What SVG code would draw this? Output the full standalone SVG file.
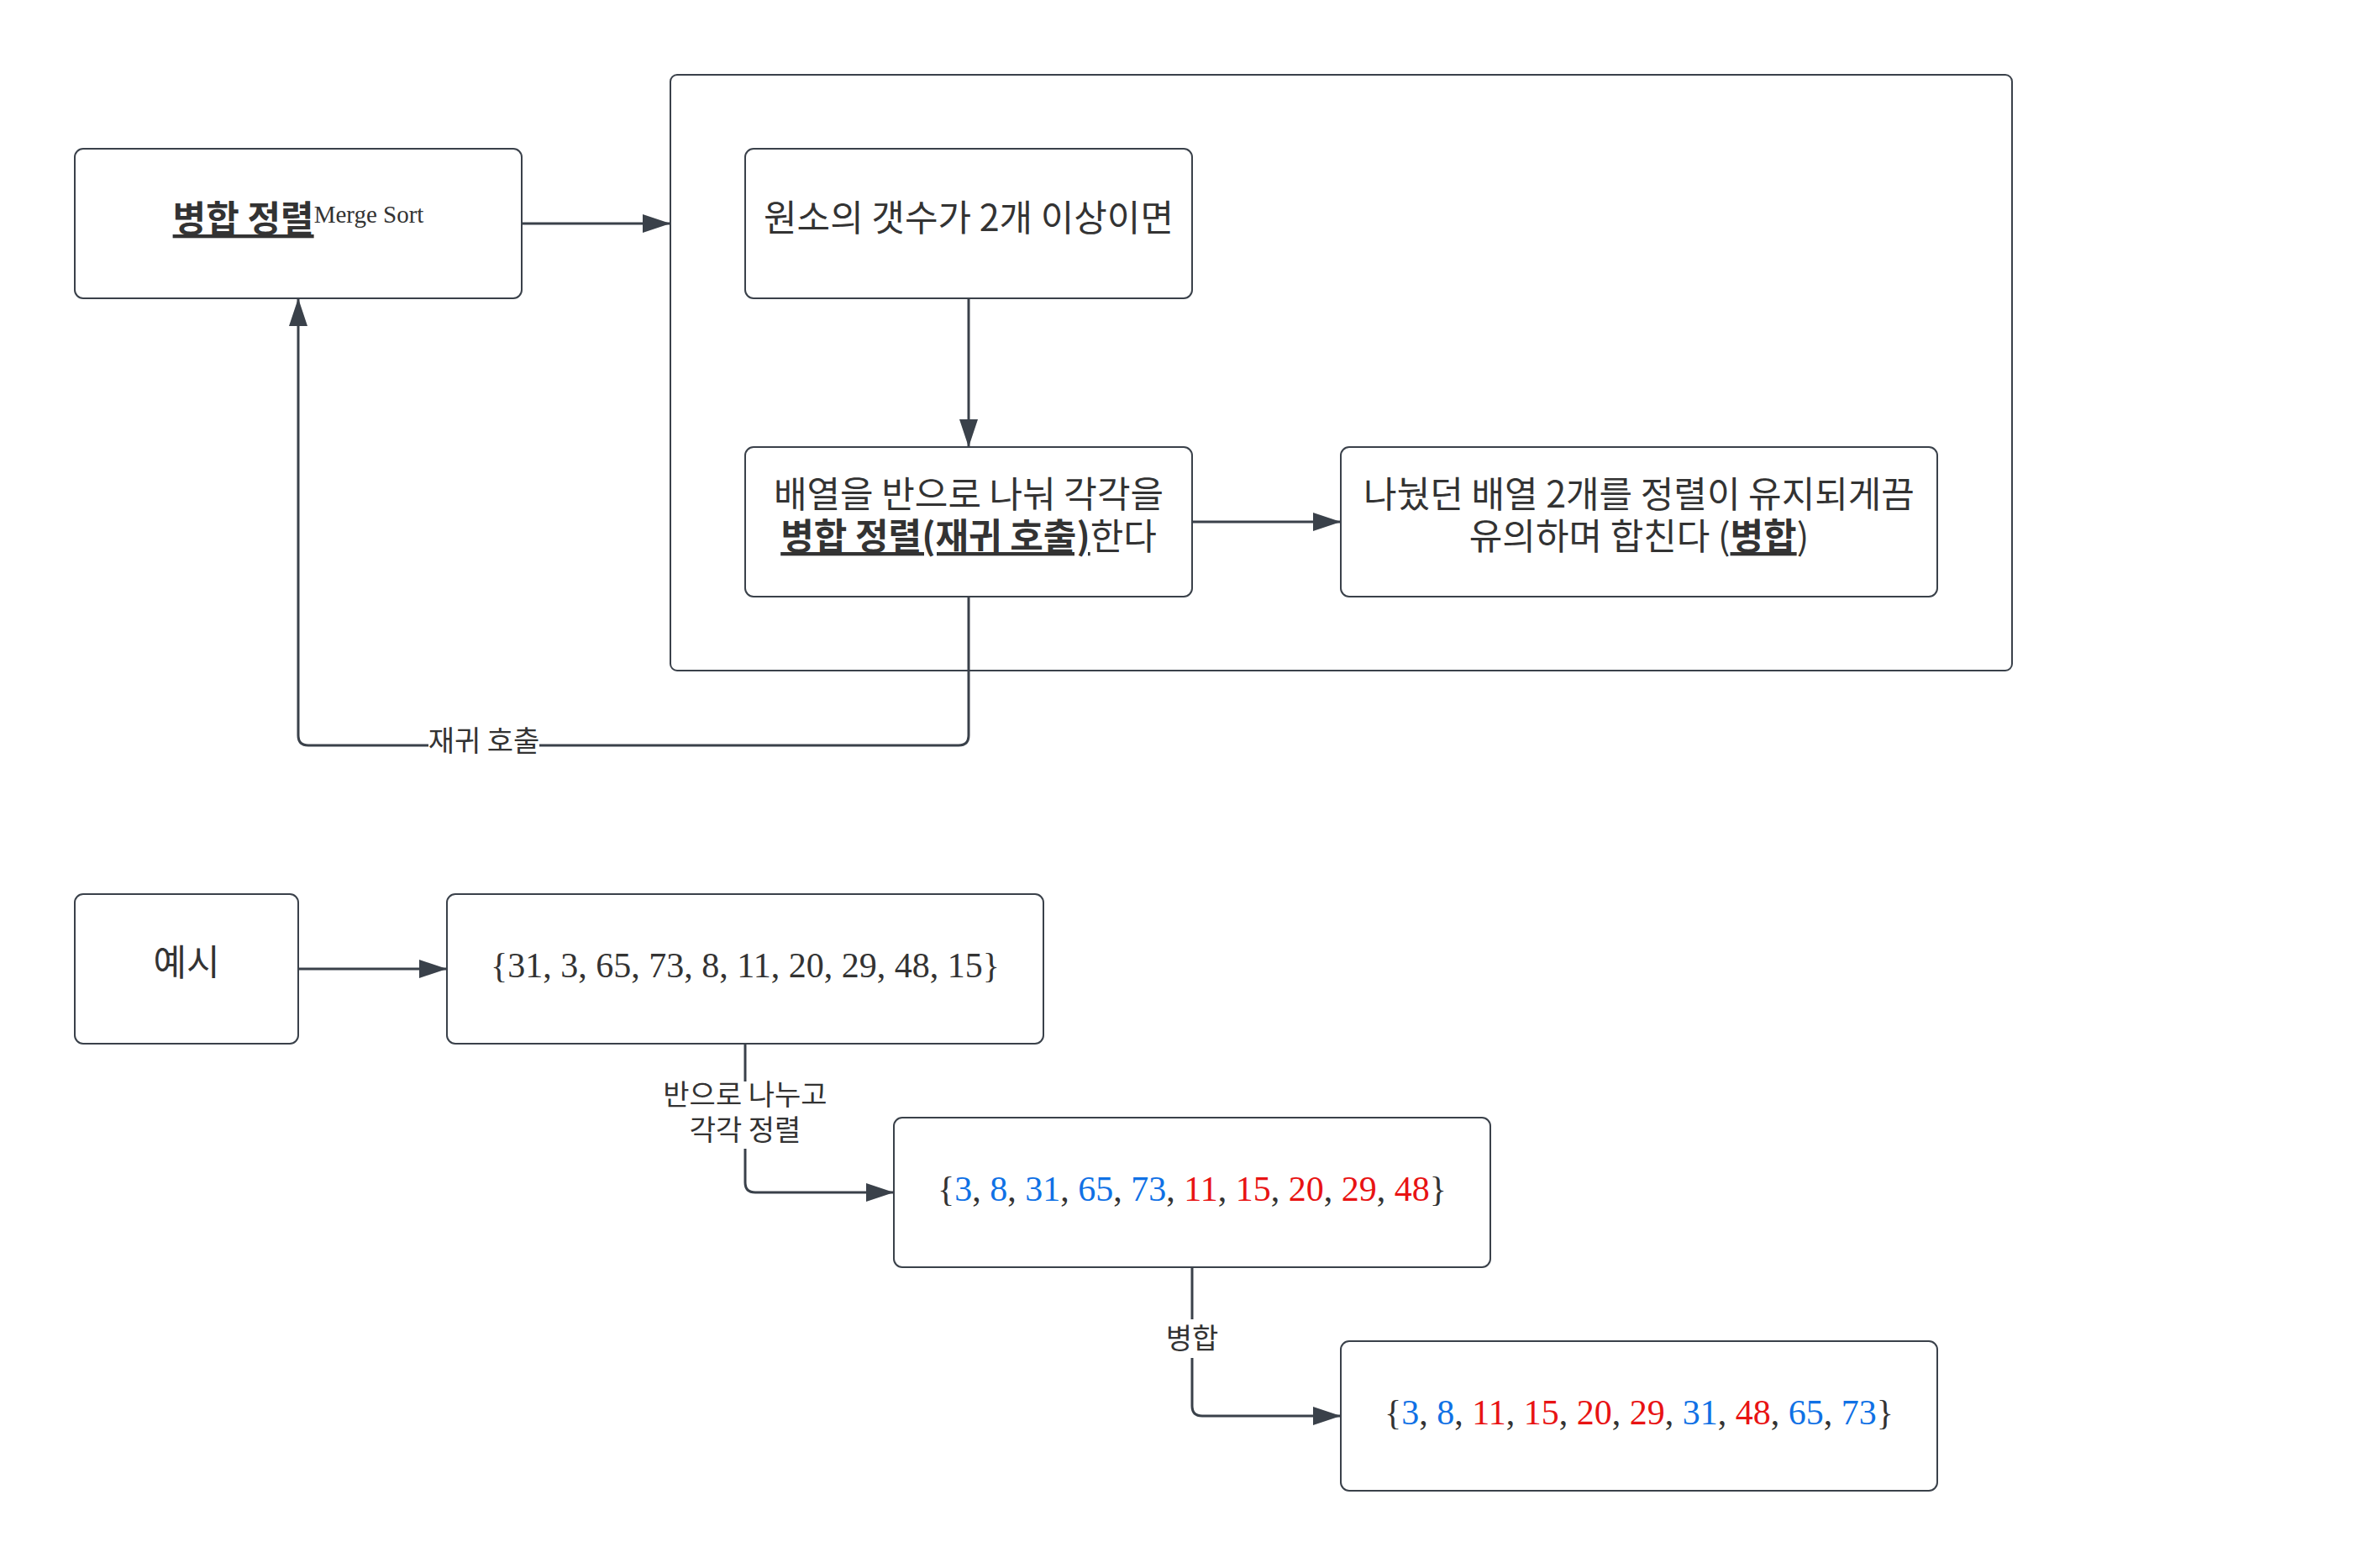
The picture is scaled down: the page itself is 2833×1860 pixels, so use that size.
<svg xmlns="http://www.w3.org/2000/svg" width="2833" height="1860" viewBox="0 0 2833 1860">
<style>
.box{fill:#fff;stroke:#3a414a;stroke-width:2}
.con{fill:none;stroke:#3a414a;stroke-width:3}
.ko{font-family:"Noto Sans CJK KR","Liberation Sans",sans-serif;font-size:43px;fill:#333;text-anchor:middle}
.lbl{font-family:"Noto Sans CJK KR","Liberation Sans",sans-serif;font-size:34px;fill:#333;text-anchor:middle}
.num{font-family:"Liberation Serif",serif;font-size:42px;fill:#333;text-anchor:middle}
.b{fill:#1071e5}
.r{fill:#e81313}
.bu{font-weight:bold;text-decoration:underline}
</style>
<defs>
<marker id="arr" markerUnits="userSpaceOnUse" markerWidth="34" markerHeight="24" viewBox="0 0 34 24" refX="33" refY="12" orient="auto">
<path d="M0,1 L33,12 L0,23 Z" fill="#3a414a"/>
</marker>
</defs>
<rect width="2833" height="1860" fill="#fff"/>
<g id="container">
<rect class="box" x="798" y="89" width="1597" height="709" rx="8"/>
</g>
<g id="connectors">
<path class="con" d="M621,266 L798,266" marker-end="url(#arr)"/>
<path class="con" d="M1153,355 L1153,532" marker-end="url(#arr)"/>
<path class="con" d="M1419,621 L1596,621" marker-end="url(#arr)"/>
<path class="con" d="M1153,710 L1153,875 Q1153,887 1141,887 L367,887 Q355,887 355,875 L355,355" marker-end="url(#arr)"/>
<rect x="510" y="862" width="132" height="44" fill="#fff"/>
<text class="lbl" x="576" y="894">재귀 호출</text>
<path class="con" d="M355,1153 L532,1153" marker-end="url(#arr)"/>
<path class="con" d="M887,1242 L887,1407 Q887,1419 899,1419 L1064,1419" marker-end="url(#arr)"/>
<rect x="784" y="1287" width="206" height="80" fill="#fff"/>
<text class="lbl" x="887" y="1315">반으로 나누고</text>
<text class="lbl" x="887" y="1357">각각 정렬</text>
<path class="con" d="M1419,1508 L1419,1673 Q1419,1685 1431,1685 L1596,1685" marker-end="url(#arr)"/>
<rect x="1383" y="1570" width="72" height="46" fill="#fff"/>
<text class="lbl" x="1419" y="1605">병합</text>
</g>
<g id="merge-sort">
<rect class="box" x="89" y="177" width="532" height="178" rx="10"/>
<text class="ko" x="355" y="276"><tspan class="bu">병합 정렬</tspan><tspan font-family="Liberation Serif, serif" font-size="29" dy="-11">Merge Sort</tspan></text>
</g>
<g id="condition">
<rect class="box" x="887" y="177" width="532" height="178" rx="10"/>
<text class="ko" x="1153" y="275">원소의 갯수가 2개 이상이면</text>
</g>
<g id="divide">
<rect class="box" x="887" y="532" width="532" height="178" rx="10"/>
<text class="ko" x="1153" y="604">배열을 반으로 나눠 각각을</text>
<text class="ko" x="1153" y="654"><tspan class="bu">병합 정렬(재귀 호출)</tspan>한다</text>
</g>
<g id="merge">
<rect class="box" x="1596" y="532" width="710" height="178" rx="10"/>
<text class="ko" x="1951" y="604">나눴던 배열 2개를 정렬이 유지되게끔</text>
<text class="ko" x="1951" y="654">유의하며 합친다 (<tspan class="bu">병합</tspan>)</text>
</g>
<g id="example">
<rect class="box" x="89" y="1064" width="266" height="178" rx="10"/>
<text class="ko" x="222" y="1161">예시</text>
</g>
<g id="input">
<rect class="box" x="532" y="1064" width="710" height="178" rx="10"/>
<text class="num" x="887" y="1163">{31, 3, 65, 73, 8, 11, 20, 29, 48, 15}</text>
</g>
<g id="halves">
<rect class="box" x="1064" y="1330" width="710" height="178" rx="10"/>
<text class="num" x="1419" y="1429">{<tspan class="b">3</tspan>, <tspan class="b">8</tspan>, <tspan class="b">31</tspan>, <tspan class="b">65</tspan>, <tspan class="b">73</tspan>, <tspan class="r">11</tspan>, <tspan class="r">15</tspan>, <tspan class="r">20</tspan>, <tspan class="r">29</tspan>, <tspan class="r">48</tspan>}</text>
</g>
<g id="result">
<rect class="box" x="1596" y="1596" width="710" height="178" rx="10"/>
<text class="num" x="1951" y="1695">{<tspan class="b">3</tspan>, <tspan class="b">8</tspan>, <tspan class="r">11</tspan>, <tspan class="r">15</tspan>, <tspan class="r">20</tspan>, <tspan class="r">29</tspan>, <tspan class="b">31</tspan>, <tspan class="r">48</tspan>, <tspan class="b">65</tspan>, <tspan class="b">73</tspan>}</text>
</g>
</svg>
